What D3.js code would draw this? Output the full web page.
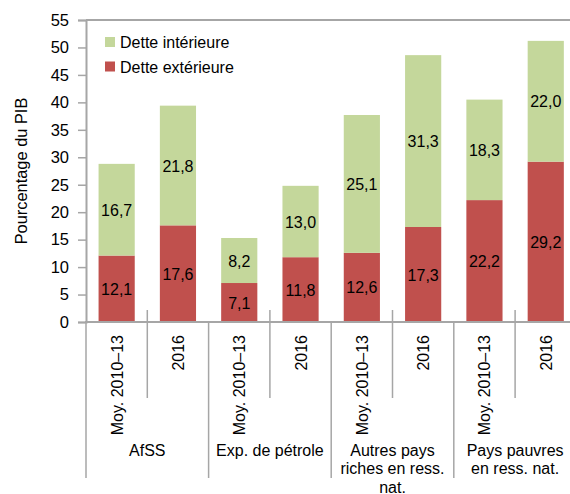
<!DOCTYPE html>
<html>
<head>
<meta charset="utf-8">
<script src="https://cdn.jsdelivr.net/npm/d3@7"></script>
<style>
  body { margin: 0; background: #fff; }
  text { font-family: "Liberation Sans", Arial, sans-serif; fill: #000; }
</style>
</head>
<body>
<svg width="570" height="494"></svg>
<script>
// values
var groups = ['AfSS', 'Exp. de pétrole', 'Autres pays riches en ress. nat.', 'Pays pauvres en ress. nat.'];
var groupLines = [['AfSS'], ['Exp. de pétrole'], ['Autres pays', 'riches en ress.', 'nat.'], ['Pays pauvres', 'en ress. nat.']];
var periods = ['Moy. 2010\u201313', '2016'];
var exterieure = [12.1, 17.6, 7.1, 11.8, 12.6, 17.3, 22.2, 29.2];
var interieure = [16.7, 21.8, 8.2, 13.0, 25.1, 31.3, 18.3, 22.0];
var yTicks = [0, 5, 10, 15, 20, 25, 30, 35, 40, 45, 50, 55];
var seriesNames = ['Dette intérieure', 'Dette extérieure'];

var colExt = '#c0504d', colInt = '#c4d79b', axisCol = '#a6a6a6';

var svg = d3.select('svg');
var plotL = 86, plotR = 576.4, plotT = 20, plotB = 322;

var cats = d3.range(exterieure.length);
var x = d3.scaleBand().domain(cats).range([plotL, plotR]).paddingInner(0.41).paddingOuter(0.205);
var y = d3.scaleLinear().domain([0, 55]).range([plotB, plotT]);
var step = (plotR - plotL) / cats.length;

var data = cats.map(function(i){
    return {i: i, ext: exterieure[i], int: interieure[i]};
});

// bars
var g = svg.append('g');
g.selectAll('rect.ext').data(data).enter().append('rect')
    .attr('x', function(d){ return x(d.i); })
    .attr('width', x.bandwidth())
    .attr('y', function(d){ return y(d.ext); })
    .attr('height', function(d){ return y(0) - y(d.ext); })
    .style('fill', colExt);
g.selectAll('rect.int').data(data).enter().append('rect')
    .attr('x', function(d){ return x(d.i); })
    .attr('width', x.bandwidth())
    .attr('y', function(d){ return y(d.ext + d.int); })
    .attr('height', function(d){ return y(d.ext) - y(d.ext + d.int); })
    .style('fill', colInt);

function fmt(v){ return v.toFixed(1).replace('.', ','); }

g.selectAll('text.le').data(data).enter().append('text')
    .attr('x', function(d){ return x(d.i) + x.bandwidth() / 2; })
    .attr('y', function(d){ return y(d.ext / 2) + 6; })
    .attr('text-anchor', 'middle')
    .style('font-size', '16px')
    .text(function(d){ return fmt(d.ext); });
g.selectAll('text.li').data(data).enter().append('text')
    .attr('x', function(d){ return x(d.i) + x.bandwidth() / 2; })
    .attr('y', function(d){ return y(d.ext + d.int / 2) + 6; })
    .attr('text-anchor', 'middle')
    .style('font-size', '16px')
    .text(function(d){ return fmt(d.int); });

// y axis
var yAxis = svg.append('g').attr('transform', 'translate(' + plotL + ',0)')
    .call(d3.axisLeft(y).tickValues(yTicks).tickSize(8).tickPadding(9));
yAxis.select('.domain').attr('stroke', axisCol).attr('stroke-width', 2);
yAxis.selectAll('.tick line').attr('stroke', axisCol).attr('stroke-width', 1.5);
yAxis.selectAll('.tick text').style('font-size', '16.5px')
    .style('font-family', '"Liberation Sans", Arial, sans-serif').attr('fill', '#000');

// top border
svg.append('line').attr('x1', plotL).attr('x2', 570).attr('y1', plotT).attr('y2', plotT)
    .attr('stroke', axisCol).attr('stroke-width', 2);

// x axis line
svg.append('line').attr('x1', plotL - 1).attr('x2', 570).attr('y1', plotB).attr('y2', plotB)
    .attr('stroke', axisCol).attr('stroke-width', 2);

// separators below axis
d3.range(cats.length + 1).forEach(function(k){
    var xx = plotL + k * step;
    var long = k % 2 === 0;
    svg.append('line').attr('x1', xx).attr('x2', xx)
        .attr('y1', long ? plotB : plotB - 12).attr('y2', long ? 478 : 398)
        .attr('stroke', axisCol).attr('stroke-width', 1.5);
});

// period labels
svg.selectAll('text.per').data(data).enter().append('text')
    .attr('transform', function(d){
        return 'translate(' + (x(d.i) + x.bandwidth() / 2 + 6) + ',335) rotate(-90)';
    })
    .attr('text-anchor', 'end')
    .style('font-size', '16px')
    .text(function(d){ return periods[d.i % 2]; });

// group labels
groupLines.forEach(function(lines, gi){
    var cx = plotL + (gi * 2 + 1) * step;
    lines.forEach(function(l, li){
        svg.append('text').attr('x', cx).attr('y', 456 + li * 18.3)
            .attr('text-anchor', 'middle').style('font-size', '16px').text(l);
    });
});

// y title
svg.append('text').attr('transform', 'translate(27,171) rotate(-90)')
    .attr('text-anchor', 'middle').style('font-size', '16.4px').text('Pourcentage du PIB');

// legend
var leg = svg.append('g');
[colInt, colExt].forEach(function(c, k){
    leg.append('rect').attr('x', 105).attr('y', 37 + k * 24.5).attr('width', 10).attr('height', 10).style('fill', c);
    leg.append('text').attr('x', 120).attr('y', 48 + k * 24.5).style('font-size', '16px').text(seriesNames[k]);
});
</script>
</body>
</html>
